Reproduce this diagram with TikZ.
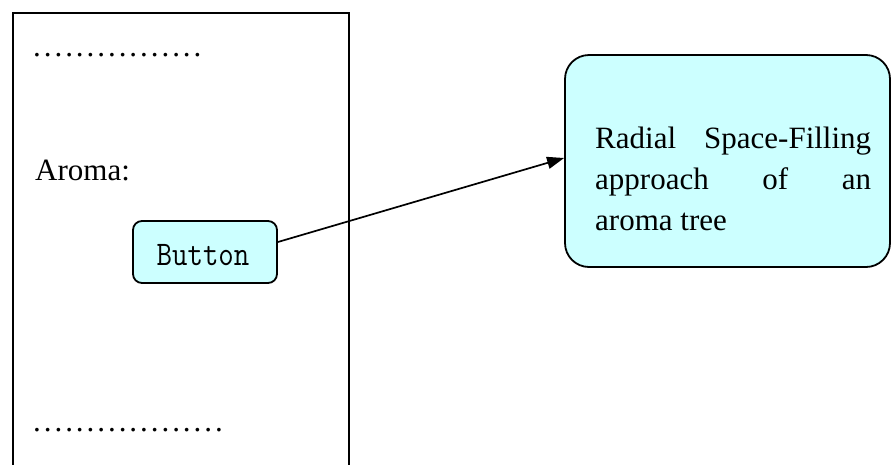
\documentclass[tikz,border=0pt]{standalone}
\usepackage{fontspec}
\setmainfont{Liberation Serif}
\usetikzlibrary{arrows.meta}
\definecolor{boxfill}{RGB}{204,255,255}
% a row of evenly spaced dots, as leader text
\newcommand\dotrow[1]{\hbox to #1{\cleaders\hbox to 10.7pt{\hss.\hss}\hfill}}
\tikzset{
  txt/.style={inner sep=0pt, font=\fontsize{31}{41}\selectfont},
  frame/.style={draw=black, line width=1.8pt},
  btnbox/.style={frame, fill=boxfill, rounded corners=9pt, inner sep=0pt,
    minimum width=144pt, minimum height=62pt},
  notebox/.style={frame, fill=boxfill, rounded corners=24pt, inner sep=0pt,
    minimum width=325pt, minimum height=212pt},
  link/.style={line width=1.7pt, -{Triangle[length=17pt,width=12pt]}}
}
\begin{document}
\begin{tikzpicture}[x=1pt, y=-1pt]
  \useasboundingbox (0,0) rectangle (891,464);
  \clip (0,0) rectangle (891,464);

  % page panel on the left, running off the bottom
  \draw[frame] (12.7,13.3) rectangle (349,480);
  \node[txt, anchor=base west] (dotstop) at (31.5,56) {\dotrow{171.2pt}};
  \node[txt, anchor=base west] (aroma) at (35,180) {Aroma:};
  \node[txt, anchor=base west] (dotsbot) at (31.5,431.5) {\dotrow{192.6pt}};

  % button
  \node[btnbox] (btn) at (205,252) {};
  \node[inner sep=0pt, anchor=base] (btntext) at (203,265)
    {\scalebox{1}[1.15]{\fontsize{30}{30}\selectfont\ttfamily Button}};

  % target box on the right
  \node[notebox] (rbox) at (727.5,161) {};
  \node[txt, anchor=base west, align=left] (rtext) at (595,230)
    {\makebox[276pt][s]{Radial\hfill Space-Filling}\\
     \makebox[276pt][s]{approach\hfill of\hfill an}\\
     aroma tree};

  \draw[link] ([yshift=10pt]btn.east) -- ([yshift=3pt]rbox.west);
\end{tikzpicture}
\end{document}
